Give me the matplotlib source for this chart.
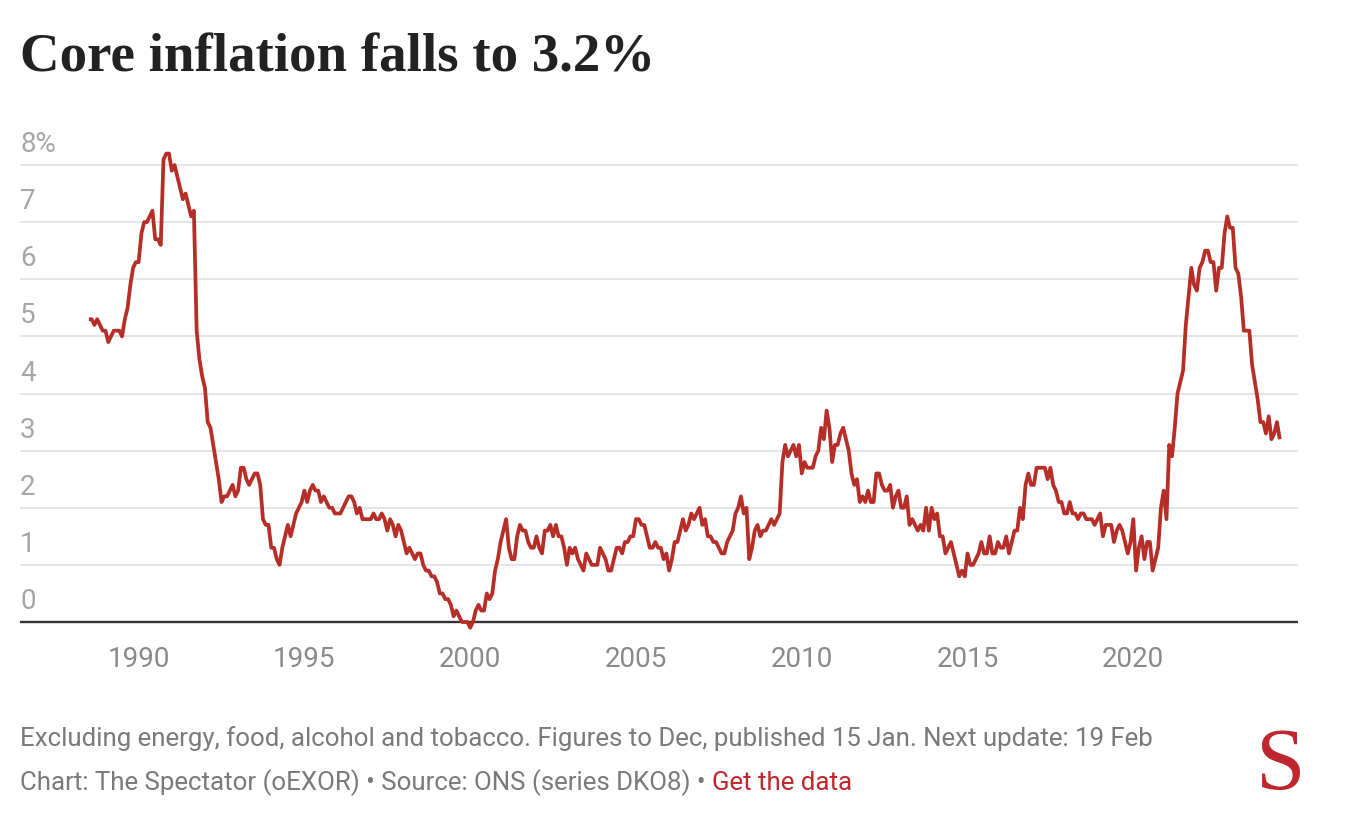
import matplotlib
matplotlib.use("Agg")
import matplotlib.pyplot as plt
import matplotlib.transforms as mtransforms
import numpy as np

# ---- data: CPI excl. energy, food, alcohol & tobacco, annual rate (%), monthly from Jan 1989
start_year = 1989
v1989 = [5.3, 5.3, 5.2, 5.3, 5.2, 5.1, 5.1, 4.9, 5.0, 5.1, 5.1, 5.1]
v1990 = [5.0, 5.3, 5.5, 5.9, 6.2, 6.3, 6.3, 6.8, 7.0, 7.0, 7.1, 7.2]
v1991 = [6.7, 6.7, 6.6, 8.1, 8.2, 8.2, 7.9, 8.0, 7.8, 7.6, 7.4, 7.5]
v1992 = [7.3, 7.1, 7.2, 5.1, 4.6, 4.3, 4.1, 3.5, 3.4, 3.1, 2.8, 2.5]
v1993 = [2.1, 2.2, 2.2, 2.3, 2.4, 2.2, 2.3, 2.7, 2.7, 2.5, 2.4, 2.5]
v1994 = [2.6, 2.6, 2.4, 1.8, 1.7, 1.7, 1.3, 1.3, 1.1, 1.0, 1.3, 1.5]
v1995 = [1.7, 1.5, 1.7, 1.9, 2.0, 2.1, 2.3, 2.1, 2.3, 2.4, 2.3, 2.3]
v1996 = [2.1, 2.2, 2.1, 2.0, 2.0, 1.9, 1.9, 1.9, 2.0, 2.1, 2.2, 2.2]
v1997 = [2.1, 1.9, 2.0, 1.8, 1.8, 1.8, 1.8, 1.9, 1.8, 1.8, 1.9, 1.8]
v1998 = [1.6, 1.8, 1.7, 1.5, 1.7, 1.6, 1.4, 1.2, 1.3, 1.2, 1.1, 1.2]
v1999 = [1.2, 1.0, 0.9, 0.9, 0.8, 0.8, 0.7, 0.5, 0.5, 0.4, 0.4, 0.3]
v2000 = [0.1, 0.2, 0.1, 0.0, 0.0, 0.0, -0.1, 0.0, 0.2, 0.3, 0.2, 0.2]
v2001 = [0.5, 0.4, 0.5, 0.9, 1.1, 1.4, 1.6, 1.8, 1.3, 1.1, 1.1, 1.5]
v2002 = [1.7, 1.6, 1.6, 1.4, 1.3, 1.3, 1.5, 1.3, 1.2, 1.6, 1.6, 1.7]
v2003 = [1.5, 1.7, 1.5, 1.5, 1.3, 1.0, 1.3, 1.2, 1.3, 1.1, 1.0, 0.9]
v2004 = [1.2, 1.1, 1.0, 1.0, 1.0, 1.3, 1.2, 1.1, 0.9, 0.9, 1.1, 1.3]
v2005 = [1.3, 1.2, 1.4, 1.4, 1.5, 1.5, 1.8, 1.8, 1.7, 1.7, 1.5, 1.3]
v2006 = [1.3, 1.4, 1.3, 1.3, 1.1, 1.2, 0.9, 1.1, 1.4, 1.4, 1.6, 1.8]
v2007 = [1.6, 1.7, 1.9, 1.8, 1.9, 2.0, 1.7, 1.8, 1.5, 1.5, 1.4, 1.4]
v2008 = [1.3, 1.2, 1.2, 1.4, 1.5, 1.6, 1.9, 2.0, 2.2, 1.9, 2.0, 1.1]
v2009 = [1.3, 1.6, 1.7, 1.5, 1.6, 1.6, 1.7, 1.8, 1.7, 1.8, 1.9, 2.8]
v2010 = [3.1, 2.9, 3.0, 3.1, 2.9, 3.1, 2.6, 2.8, 2.7, 2.7, 2.7, 2.9]
v2011 = [3.0, 3.4, 3.2, 3.7, 3.4, 2.8, 3.1, 3.1, 3.3, 3.4, 3.2, 3.0]
v2012 = [2.6, 2.4, 2.5, 2.1, 2.2, 2.1, 2.3, 2.1, 2.1, 2.6, 2.6, 2.4]
v2013 = [2.3, 2.3, 2.4, 2.0, 2.2, 2.3, 2.0, 2.0, 2.2, 1.7, 1.8, 1.7]
v2014 = [1.6, 1.7, 1.6, 2.0, 1.6, 2.0, 1.8, 1.9, 1.5, 1.5, 1.2, 1.3]
v2015 = [1.4, 1.2, 1.0, 0.8, 0.9, 0.8, 1.2, 1.0, 1.0, 1.1, 1.2, 1.4]
v2016 = [1.2, 1.2, 1.5, 1.2, 1.2, 1.4, 1.3, 1.3, 1.5, 1.2, 1.4, 1.6]
v2017 = [1.6, 2.0, 1.8, 2.4, 2.6, 2.4, 2.4, 2.7, 2.7, 2.7, 2.7, 2.5]
v2018 = [2.7, 2.4, 2.3, 2.1, 2.1, 1.9, 1.9, 2.1, 1.9, 1.9, 1.8, 1.9]
v2019 = [1.9, 1.8, 1.8, 1.8, 1.7, 1.8, 1.9, 1.5, 1.7, 1.7, 1.7, 1.4]
v2020 = [1.6, 1.7, 1.6, 1.4, 1.2, 1.4, 1.8, 0.9, 1.3, 1.5, 1.1, 1.4]
v2021 = [1.4, 0.9, 1.1, 1.3, 2.0, 2.3, 1.8, 3.1, 2.9, 3.4, 4.0, 4.2]
v2022 = [4.4, 5.2, 5.7, 6.2, 5.9, 5.8, 6.2, 6.3, 6.5, 6.5, 6.3, 6.3]
v2023 = [5.8, 6.2, 6.2, 6.8, 7.1, 6.9, 6.9, 6.2, 6.1, 5.7, 5.1, 5.1]
v2024 = [5.1, 4.5, 4.2, 3.9, 3.5, 3.5, 3.3, 3.6, 3.2, 3.3, 3.5, 3.2]

yearly = [v1989, v1990, v1991, v1992, v1993, v1994, v1995, v1996, v1997, v1998,
          v1999, v2000, v2001, v2002, v2003, v2004, v2005, v2006, v2007, v2008,
          v2009, v2010, v2011, v2012, v2013, v2014, v2015, v2016, v2017, v2018,
          v2019, v2020, v2021, v2022, v2023, v2024]
values = [v for yr in yearly for v in yr]

y_ticks = [0, 1, 2, 3, 4, 5, 6, 7, 8]
y_labels = ["0", "1", "2", "3", "4", "5", "6", "7", "8%"]
x_tick_years = [1990, 1995, 2000, 2005, 2010, 2015, 2020]

title = "Core inflation falls to 3.2%"
note = "Excluding energy, food, alcohol and tobacco. Figures to Dec, published 15 Jan. Next update: 19 Feb"
credit = "Chart: The Spectator (oEXOR) \u2022 Source: ONS (series DKO8) \u2022 "
link = "Get the data"

# ---- figure
W, H = 1354, 840
fig = plt.figure(figsize=(W / 100, H / 100), dpi=100)
fig.patch.set_facecolor("white")

ax_l, ax_r, ax_t, ax_b = 20, 1298, 140, 640
ax = fig.add_axes([ax_l / W, 1 - ax_b / H, (ax_r - ax_l) / W, (ax_b - ax_t) / H])

t = start_year + np.arange(len(values)) / 12.0

ppy = 33.156
x0 = start_year - (88.9 - ax_l) / ppy
x1 = start_year + (ax_r - 88.9) / ppy
ax.set_xlim(x0, x1)
ppu = 57.125
ax.set_ylim(-(ax_b - 622) / ppu, (622 - ax_t) / ppu)

for v in y_ticks[1:]:
    ax.axhline(v, color="#e3e3e3", lw=1.3, zorder=1)
ax.axhline(0, color="#333333", lw=1.7, zorder=3)

ax.plot(t, values, color="#b72e28", lw=2.7, solid_joinstyle="round",
        solid_capstyle="butt", zorder=4)

for side in ax.spines.values():
    side.set_visible(False)
ax.set_yticks([])
ax.set_xticks([y + 0.5 for y in x_tick_years])
ax.set_xticklabels([str(y) for y in x_tick_years])
ax.tick_params(axis="x", length=0, pad=4, labelsize=20, labelcolor="#8a8a8a")
for lab in ax.get_xticklabels():
    lab.set_fontfamily("Roboto")

trans = mtransforms.blended_transform_factory(ax.transAxes, ax.transData)
for v, lab in zip(y_ticks, y_labels):
    ax.annotate(lab, xy=(0, v), xycoords=trans, xytext=(0, 5),
                textcoords="offset points", ha="left", va="bottom",
                fontsize=20, color="#a6a6a6", fontfamily="Roboto")

# title
fig.text(20 / W, 1 - 72 / H, title, fontsize=39.5, fontweight="bold",
         fontfamily="Liberation Serif", color="#222222", ha="left", va="baseline")

# footer
fs = 18.6
fig.text(20 / W, 1 - 746 / H, note, fontsize=fs, color="#7a7a7a",
         fontfamily="Roboto", ha="left", va="baseline")
ct = fig.text(20 / W, 1 - 790 / H, credit, fontsize=fs, color="#7a7a7a",
              fontfamily="Roboto", ha="left", va="baseline")
fig.canvas.draw()
bb = ct.get_window_extent(renderer=fig.canvas.get_renderer())
fig.text(bb.x1 / W, 1 - 790 / H, link, fontsize=fs, color="#c0262d",
         fontfamily="Roboto", ha="left", va="baseline")

# logo
fig.text(1281 / W, 1 - 789 / H, "S", fontsize=64, color="#c0262d",
         fontfamily="Liberation Serif", ha="center", va="baseline")

fig.savefig("out.png", dpi=100, facecolor="white")
